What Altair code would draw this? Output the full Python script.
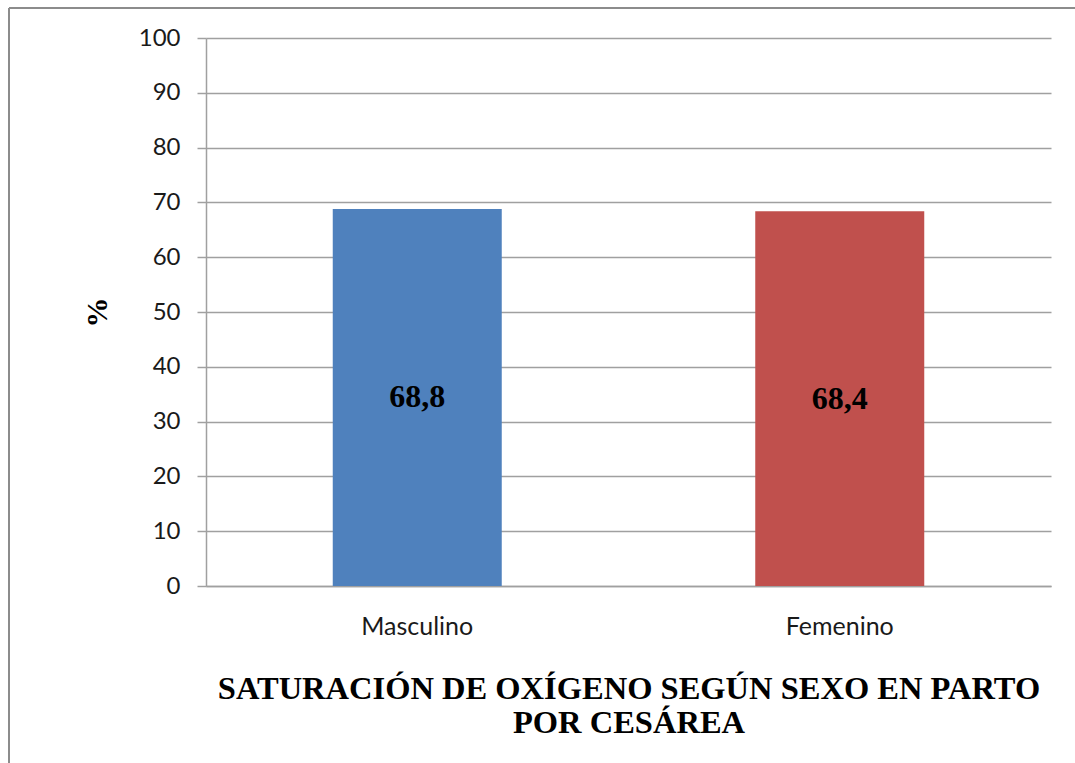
import altair as alt
import pandas as pd

# Oxygen saturation (%) by newborn sex, caesarean deliveries
sexo = ["Masculino", "Femenino"]
saturacion = [68.8, 68.4]
colores = ["#4F81BD", "#C0504D"]

df = pd.DataFrame({"sexo": sexo, "valor": saturacion})

W, H = 845, 548
AXIS_GRAY = "#a0a0a0"

x_enc = alt.X(
    "sexo:N",
    sort=sexo,
    scale=alt.Scale(paddingInner=0.6, paddingOuter=0.3),
    axis=alt.Axis(
        title=["SATURACIÓN DE OXÍGENO SEGÚN SEXO EN PARTO", "POR CESÁREA"],
        titleFont="Liberation Serif",
        titleFontSize=32.5,
        titleFontWeight="bold",
        titleColor="#000000",
        titleLineHeight=34,
        titlePadding=33,
        labelAngle=0,
        labelFont="Lato",
        labelFontSize=25,
        labelColor="#1a1a1a",
        labelPadding=28,
        ticks=False,
        domainColor=AXIS_GRAY,
        domainWidth=1.5,
    ),
)

bars = alt.Chart(df).mark_bar().encode(
    x=x_enc,
    y=alt.Y(
        "valor:Q",
        scale=alt.Scale(domain=[0, 100], nice=False),
        axis=alt.Axis(
            values=list(range(0, 101, 10)),
            title="%",
            titleFont="Liberation Serif",
            titleFontSize=30,
            titleFontWeight="bold",
            titleColor="#000000",
            titleAngle=270,
            titleX=-109,
            titleY=H / 2,
            titleAlign="center",
            titleBaseline="middle",
            labelFont="Lato",
            labelFontSize=24,
            labelColor="#1a1a1a",
            labelPadding=17,
            tickSize=9,
            tickColor=AXIS_GRAY,
            tickWidth=1.5,
            domainColor=AXIS_GRAY,
            domainWidth=1.5,
            grid=True,
            gridColor=AXIS_GRAY,
            gridWidth=1.5,
        ),
    ),
    color=alt.Color("sexo:N", scale=alt.Scale(domain=sexo, range=colores), legend=None),
)

labels = alt.Chart(df).transform_calculate(
    mitad="datum.valor / 2",
    etiqueta="replace(format(datum.valor, '.1f'), '.', ',')",
).mark_text(
    font="Liberation Serif", fontSize=32, fontWeight="bold", color="#000000", baseline="middle"
).encode(
    x=alt.X("sexo:N", sort=sexo),
    y=alt.Y("mitad:Q"),
    text="etiqueta:N",
)

# Frame lines along the left and top edges of the figure
frame_left = alt.Chart(df).mark_rule(color="#8c8c8c", strokeWidth=2, clip=False).encode(
    x=alt.value(-197), y=alt.value(-30), y2=alt.value(H + 200)
)
frame_top = alt.Chart(df).mark_rule(color="#8c8c8c", strokeWidth=2, clip=False).encode(
    x=alt.value(-197), x2=alt.value(W + 100), y=alt.value(-30)
)

chart = (
    alt.layer(bars, labels, frame_left, frame_top)
    .properties(
        width=W,
        height=H,
        autosize=alt.AutoSizeParams(type="none"),
        padding={"left": 206, "top": 38, "right": 24, "bottom": 177},
        background="#ffffff",
    )
    .configure_view(stroke=None)
)

chart.save("out.html", embed_options={"renderer": "svg", "actions": False})
